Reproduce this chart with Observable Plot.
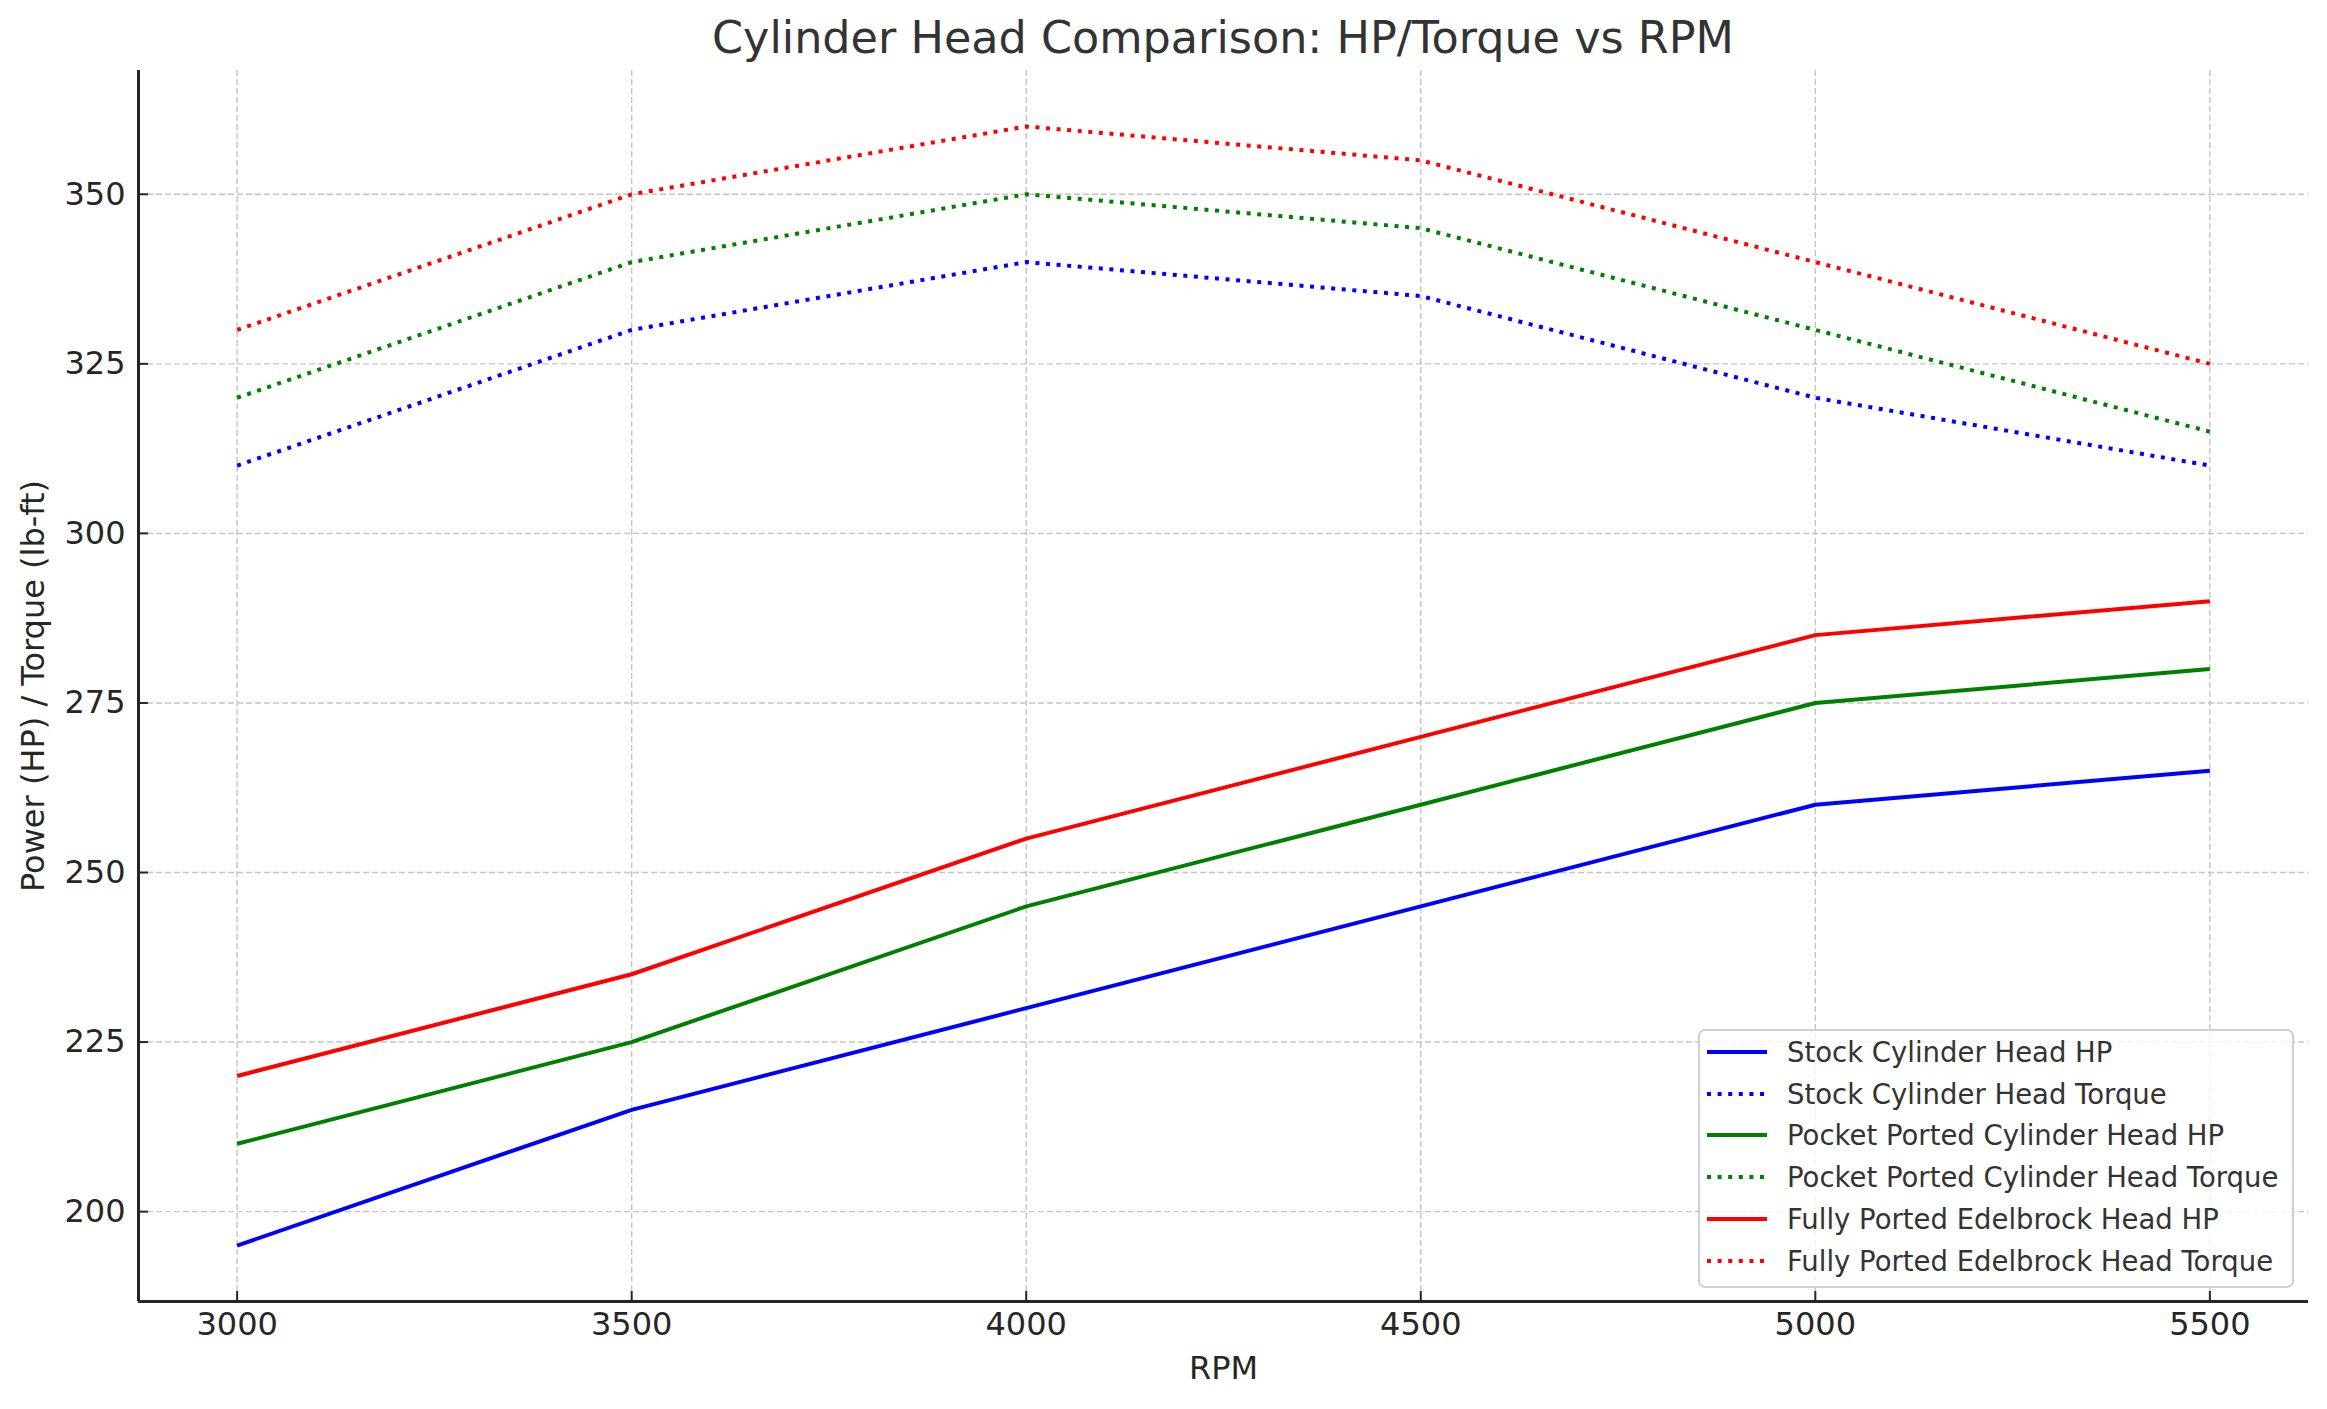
<!DOCTYPE html>
<html>
<head>
<meta charset="utf-8">
<script src="https://cdn.jsdelivr.net/npm/d3@7"></script>
<script src="https://cdn.jsdelivr.net/npm/@observablehq/plot@0.6"></script>
<style>
  body { margin: 0; background: #fff; }
  #fig { position: relative; width: 2327px; height: 1409px; font-family: "DejaVu Sans", sans-serif; overflow: hidden; background: #fff; }
  #title { position: absolute; left: 138px; width: 2170px; top: 12px; text-align: center; font-size: 44.5px; color: #333; line-height: normal; white-space: nowrap; }
  #chart { position: absolute; left: 0; top: 60px; }
  #legend { position: absolute; left: 1698px; top: 1029px; width: 596px; height: 259px; box-sizing: border-box;
            border: 2px solid #d0d0d0; border-radius: 7px; background: rgba(255,255,255,0.8); }
  .row { height: 41.8px; display: flex; align-items: center; }
  .row svg { margin-left: 7px; width: 60px; height: 10px; flex: none; }
  .row span { margin-left: 20px; font-size: 27.5px; color: #333; white-space: nowrap; }
</style>
</head>
<body>
<div id="fig">
  <div id="title">Cylinder Head Comparison: HP/Torque vs RPM</div>
  <div id="chart"></div>
  <div id="legend"></div>
</div>
<script>
// ---- data ----
const rpm = [3000, 3500, 4000, 4500, 5000, 5500];
const stockHP = [195, 215, 230, 245, 260, 265];
const stockTorque = [310, 330, 340, 335, 320, 310];
const pocketHP = [210, 225, 245, 260, 275, 280];
const pocketTorque = [320, 340, 350, 345, 330, 315];
const fullyHP = [220, 235, 255, 270, 285, 290];
const fullyTorque = [330, 350, 360, 355, 340, 325];

const seriesNames = [
  "Stock Cylinder Head HP",
  "Stock Cylinder Head Torque",
  "Pocket Ported Cylinder Head HP",
  "Pocket Ported Cylinder Head Torque",
  "Fully Ported Edelbrock Head HP",
  "Fully Ported Edelbrock Head Torque"
];
const seriesValues = [stockHP, stockTorque, pocketHP, pocketTorque, fullyHP, fullyTorque];
const seriesColors = ["#0000ff", "#0000ff", "#008000", "#008000", "#ff0000", "#ff0000"];
const seriesDotted = [false, true, false, true, false, true];

const xTicks = [3000, 3500, 4000, 4500, 5000, 5500];
const yTicks = [200, 225, 250, 275, 300, 325, 350];
const xDomain = [2875, 5625];
const yDomain = [186.75, 368.25];

// ---- build ----
const ink = "#262626";
const dotted = "4,6.6";

const lineMarks = seriesNames.map((name, s) =>
  Plot.line(rpm.map((r, i) => ({rpm: r, value: seriesValues[s][i]})), {
    x: "rpm", y: "value",
    stroke: seriesColors[s],
    strokeWidth: 4,
    strokeDasharray: seriesDotted[s] ? dotted : null,
    strokeLinecap: "butt",
    strokeLinejoin: "round"
  })
);

const chart = Plot.plot({
  width: 2327,
  height: 1349,
  marginTop: 10,
  marginBottom: 108,
  marginLeft: 138,
  marginRight: 19,
  style: {fontFamily: "DejaVu Sans", fontSize: "32px", color: ink, background: "transparent"},
  x: {domain: xDomain},
  y: {domain: yDomain},
  marks: [
    Plot.gridX(xTicks, {stroke: "#c4c4c4", strokeOpacity: 1, strokeWidth: 1.4, strokeDasharray: "6,3"}),
    Plot.gridY(yTicks, {stroke: "#c4c4c4", strokeOpacity: 1, strokeWidth: 1.4, strokeDasharray: "6,3"}),
    ...lineMarks,
    Plot.ruleX([xDomain[0]], {stroke: ink, strokeWidth: 3}),
    Plot.ruleY([yDomain[0]], {stroke: ink, strokeWidth: 3}),
    Plot.axisX(xTicks, {anchor: "bottom", tickSize: -10, tickPadding: 21, strokeWidth: 2, fontSize: 32, label: null, tickFormat: d => `${d}`}),
    Plot.axisY(yTicks, {anchor: "left", tickSize: -10, tickPadding: 23, strokeWidth: 2, fontSize: 32, label: null, tickFormat: d => `${d}`}),
    Plot.text(["RPM"], {frameAnchor: "bottom", dy: 77, fontSize: 32, fill: ink, textAnchor: "middle"}),
    Plot.text(["Power (HP) / Torque (lb-ft)"], {frameAnchor: "left", dx: -105, rotate: -90, fontSize: 32, fill: ink, textAnchor: "middle"})
  ]
});
document.getElementById("chart").appendChild(chart);

// ---- legend ----
const legend = document.getElementById("legend");
seriesNames.forEach((name, s) => {
  const row = document.createElement("div");
  row.className = "row";
  const ns = "http://www.w3.org/2000/svg";
  const svg = document.createElementNS(ns, "svg");
  svg.setAttribute("width", 60); svg.setAttribute("height", 10);
  const ln = document.createElementNS(ns, "line");
  ln.setAttribute("x1", 0); ln.setAttribute("x2", 60);
  ln.setAttribute("y1", 5); ln.setAttribute("y2", 5);
  ln.setAttribute("stroke", seriesColors[s]);
  ln.setAttribute("stroke-width", 4);
  if (seriesDotted[s]) ln.setAttribute("stroke-dasharray", dotted);
  svg.appendChild(ln);
  const span = document.createElement("span");
  span.textContent = name;
  row.appendChild(svg); row.appendChild(span);
  legend.appendChild(row);
});
</script>
</body>
</html>
